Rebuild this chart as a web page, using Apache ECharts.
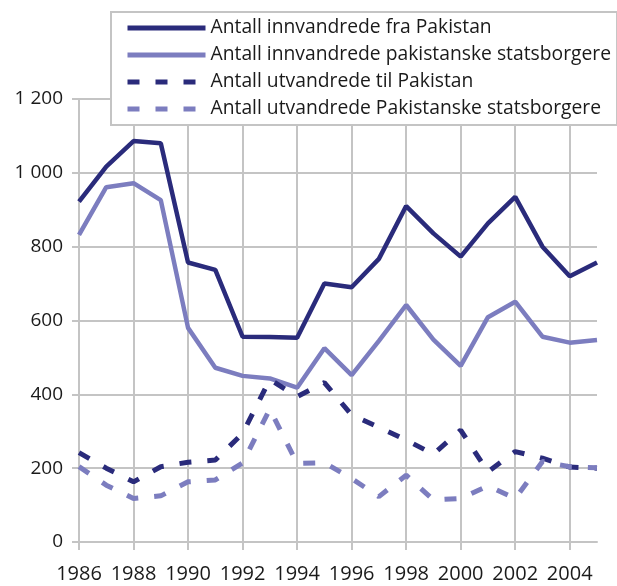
<!DOCTYPE html>
<html>
<head>
<meta charset="utf-8">
<script src="https://cdn.jsdelivr.net/npm/echarts@6/dist/echarts.min.js"></script>
<style>
  html, body { margin: 0; padding: 0; background: #fff; }
  #main { width: 617px; height: 586px; }
</style>
</head>
<body>
<div id="main"></div>
<script>
var years = ['1986','1987','1988','1989','1990','1991','1992','1993','1994','1995',
             '1996','1997','1998','1999','2000','2001','2002','2003','2004','2005'];

var innvFraPakistan = [922,1017,1086,1080,757,737,556,555,553,700,
                       690,767,910,836,773,863,935,800,720,757];
var innvStatsborgere = [832,961,972,926,580,472,450,443,418,525,
                        452,545,642,548,477,609,651,556,540,547];
var utvTilPakistan = [242,200,163,204,216,222,294,440,394,432,
                      344,311,276,238,303,190,245,227,203,200];
var utvStatsborgere = [204,154,118,125,163,168,214,360,213,215,
                       172,123,181,114,118,152,118,218,204,201];

var seriesNames = ['Antall innvandrede fra Pakistan',
                   'Antall innvandrede pakistanske statsborgere',
                   'Antall utvandrede til Pakistan',
                   'Antall utvandrede Pakistanske statsborgere'];

var dark = '#2a2b7b';
var light = '#7c7dbf';
var gridGray = '#c4c4c4';
var font = '"Open Sans", "DejaVu Sans", sans-serif';

function mkLine(name, data, color, dashed) {
    return {
        name: name,
        type: 'line',
        data: data,
        symbol: 'none',
        smooth: false,
        lineStyle: {
            color: color,
            width: dashed ? 5 : 4.5,
            type: dashed ? [12, 16] : 'solid',
            cap: 'butt'
        },
        itemStyle: { color: color }
    };
}

var myChart = echarts.init(document.getElementById('main'), null, { renderer: 'canvas' });

var option = {
    animation: false,
    backgroundColor: '#fff',
    grid: { left: 79, right: 20, top: 99, bottom: 44, containLabel: false },
    legend: {
        orient: 'vertical',
        left: 111,
        top: 12,
        padding: [6, 6, 6, 14],
        itemGap: 7,
        itemWidth: 78,
        itemHeight: 20,
        backgroundColor: '#fff',
        borderColor: gridGray,
        borderWidth: 2,
        borderRadius: 0,
        itemStyle: { opacity: 0 },
        lineStyle: { width: 5 },
        textStyle: { fontFamily: font, fontSize: 19.3, color: '#1a1a1a', lineHeight: 20 },
        data: seriesNames
    },
    xAxis: {
        type: 'category',
        data: years,
        boundaryGap: false,
        axisLine: { show: true, lineStyle: { color: gridGray, width: 2 } },
        axisTick: { show: true, interval: 1, length: 8, lineStyle: { color: gridGray, width: 2 } },
        axisLabel: { interval: 1, margin: 22, fontFamily: font, fontSize: 20, color: '#1a1a1a' },
        splitLine: { show: true, interval: 1, lineStyle: { color: gridGray, width: 2 } }
    },
    yAxis: {
        type: 'value',
        min: 0,
        max: 1200,
        interval: 200,
        axisLine: { show: true, lineStyle: { color: gridGray, width: 2 } },
        axisTick: { show: true, length: 7, lineStyle: { color: gridGray, width: 2 } },
        axisLabel: {
            margin: 16,
            fontFamily: font,
            fontSize: 19,
            color: '#1a1a1a',
            formatter: function (v) {
                return String(v).replace(/\B(?=(\d{3})+(?!\d))/g, ' ');
            }
        },
        splitLine: { show: true, lineStyle: { color: gridGray, width: 2 } }
    },
    series: [
        mkLine(seriesNames[0], innvFraPakistan, dark, false),
        mkLine(seriesNames[1], innvStatsborgere, light, false),
        mkLine(seriesNames[2], utvTilPakistan, dark, true),
        mkLine(seriesNames[3], utvStatsborgere, light, true)
    ]
};

myChart.setOption(option);
</script>
</body>
</html>
